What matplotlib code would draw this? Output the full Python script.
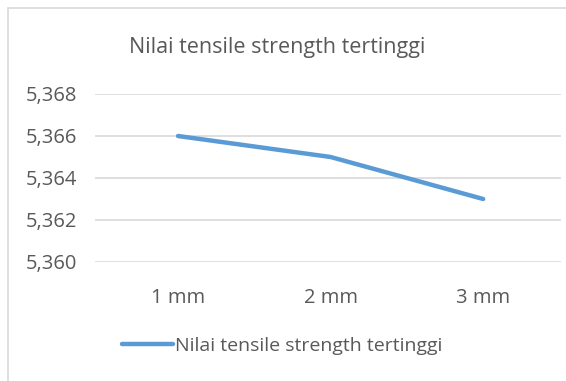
import matplotlib
matplotlib.use("Agg")
import matplotlib.pyplot as plt
from matplotlib.patches import Rectangle
from matplotlib.ticker import FuncFormatter, MultipleLocator

categories = ["1 mm", "2 mm", "3 mm"]
values = [5.366, 5.365, 5.363]
series_name = "Nilai tensile strength tertinggi"
title = "Nilai tensile strength tertinggi"

W, H = 566, 381
DPI = 100
plt.rcParams["font.family"] = ["Open Sans", "DejaVu Sans"]
text_color = "#595959"
grid_color = "#D9D9D9"
line_color = "#5B9BD5"

fig = plt.figure(figsize=(W / DPI, H / DPI), dpi=DPI)

# chart-area border (light grey frame on left and top)
fig.patches.append(Rectangle((8 / W, -0.05), 1.1, (H - 8) / H + 0.05,
                             transform=fig.transFigure, fill=False,
                             edgecolor="#D9D9D9", linewidth=1.2))

# plot area in pixel coordinates
left, right = 95, 561
top, bottom = 94, 262
ax = fig.add_axes([left / W, 1 - bottom / H, (right - left) / W, (bottom - top) / H])

x = list(range(len(categories)))
ax.plot(x, values, color=line_color, linewidth=3.2, solid_capstyle="round",
        solid_joinstyle="round", label=series_name)

ax.set_ylim(5.360, 5.368)
ax.yaxis.set_major_locator(MultipleLocator(0.002))
ax.yaxis.set_major_formatter(FuncFormatter(lambda v, p: f"{v:.3f}".replace(".", ",")))
ax.set_xlim(-0.544, 2.51)
ax.set_xticks(x)
ax.set_xticklabels(categories)

ax.grid(axis="y", color=grid_color, linewidth=1.2)
ax.set_axisbelow(True)
for s in ax.spines.values():
    s.set_visible(False)
ax.tick_params(axis="both", length=0, labelsize=14.5, colors=text_color)
ax.tick_params(axis="y", pad=13)
ax.tick_params(axis="x", pad=19)

fig.text(277 / W, 1 - 47 / H, title, ha="center", va="center",
         fontsize=15.5, color=text_color)

leg = fig.legend(loc="center", bbox_to_anchor=(282 / W, 1 - 346 / H),
                 frameon=False, fontsize=14, handlelength=2.6,
                 handletextpad=0.1, labelcolor=text_color)
for h in leg.get_lines():
    h.set_linewidth(3.2)
    h.set_solid_capstyle("round")

fig.savefig("out.png", dpi=DPI, facecolor="white")
